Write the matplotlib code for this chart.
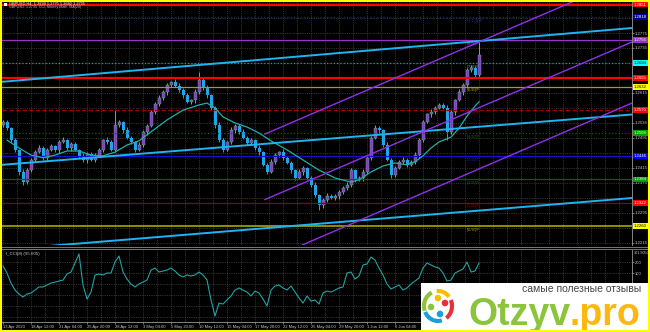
import matplotlib
matplotlib.use("Agg")
import matplotlib.pyplot as plt
from matplotlib.patches import Rectangle, Arc, Circle
import numpy as np

# ---- H4 bars: close per bar, open = previous close, wicks in pips ----
first_open = 1.2530
closes = [1.2537, 1.2521, 1.2489, 1.2463, 1.2404, 1.2377, 1.2409, 1.2436, 1.2457, 1.2468,
          1.2442, 1.2463, 1.2473, 1.2463, 1.2484, 1.2489, 1.2468, 1.2479, 1.2463, 1.2447,
          1.2436, 1.2452, 1.2436, 1.2447, 1.2463, 1.2489, 1.2484, 1.2463, 1.2529, 1.2537,
          1.2516, 1.2495, 1.2484, 1.2463, 1.2476, 1.2511, 1.2527, 1.2564, 1.2585, 1.2601,
          1.2617, 1.2636, 1.2644, 1.2634, 1.2623, 1.2609, 1.2591, 1.2596, 1.2617, 1.2650,
          1.2628, 1.2609, 1.2575, 1.2529, 1.2489, 1.2463, 1.2484, 1.2516, 1.2527, 1.2511,
          1.2495, 1.2482, 1.2489, 1.2468, 1.2457, 1.2423, 1.2404, 1.2431, 1.2449, 1.2457,
          1.2442, 1.2428, 1.2409, 1.2388, 1.2404, 1.2415, 1.2388, 1.2369, 1.2342, 1.2316,
          1.2329, 1.2340, 1.2334, 1.2340, 1.2350, 1.2361, 1.2369, 1.2409, 1.2383, 1.2388,
          1.2404, 1.2442, 1.2495, 1.2521, 1.2516, 1.2476, 1.2436, 1.2396, 1.2415, 1.2431,
          1.2436, 1.2423, 1.2431, 1.2449, 1.2489, 1.2537, 1.2559, 1.2564, 1.2575, 1.2583,
          1.2575, 1.2511, 1.2564, 1.2596, 1.2617, 1.2636, 1.2676, 1.2682, 1.2663, 1.2716]
wick_up = [5, 7, 4, 6, 3, 8, 5, 4, 6, 9, 4, 5, 7, 3, 6, 8, 4, 5, 6, 3,
           7, 4, 5, 8, 6, 4, 9, 5, 40, 6, 4, 7, 5, 3, 8, 6, 4, 5, 7, 9,
           5, 6, 4, 8, 7, 5, 6, 4, 9, 21, 5, 7, 4, 6, 8, 5, 3, 7, 6, 4,
           8, 5, 6, 4, 7, 3, 5, 8, 6, 4, 7, 5, 6, 4, 8, 5, 3, 6, 7, 4,
           5, 8, 6, 4, 7, 5, 9, 6, 4, 5, 7, 4, 6, 8, 5, 3, 7, 6, 4, 5,
           8, 6, 4, 7, 5, 6, 3, 8, 5, 4, 6, 7, 5, 4, 8, 6, 5, 7, 4, 35]
wick_dn = [6, 4, 8, 5, 7, 9, 4, 6, 5, 3, 7, 5, 4, 6, 8, 3, 5, 7, 4, 6,
           5, 8, 4, 6, 3, 7, 5, 4, 6, 5, 8, 4, 6, 7, 3, 5, 8, 4, 6, 5,
           4, 7, 5, 3, 6, 8, 4, 5, 7, 4, 6, 8, 5, 7, 4, 6, 3, 5, 8, 6,
           4, 7, 5, 6, 8, 3, 5, 4, 7, 6, 5, 4, 8, 6, 3, 7, 5, 6, 4, 14,
           7, 5, 3, 6, 8, 4, 6, 5, 7, 3, 8, 5, 6, 4, 7, 5, 3, 8, 6, 4,
           5, 7, 4, 6, 8, 5, 3, 7, 6, 4, 4, 22, 5, 8, 3, 7, 4, 6, 5, 7]

# moving average (bar index, price)
ma_idx = [1, 4, 7, 10, 13, 16, 19, 22, 25, 28, 31, 34, 37, 41, 45, 49, 51, 53, 55, 58,
          61, 64, 67, 71, 75, 79, 83, 87, 89, 92, 95, 98, 101, 103, 105, 107, 109, 112,
          114, 116, 118, 119]
ma_val = [1.2489, 1.2468, 1.2449, 1.2442, 1.2449, 1.2460, 1.2460, 1.2449, 1.2447, 1.2457,
          1.2476, 1.2487, 1.2511, 1.2543, 1.2569, 1.2583, 1.2588, 1.2575, 1.2551, 1.2535,
          1.2524, 1.2508, 1.2487, 1.2463, 1.2436, 1.2409, 1.2388, 1.2377, 1.2383, 1.2404,
          1.2420, 1.2428, 1.2423, 1.2431, 1.2447, 1.2468, 1.2484, 1.2497, 1.2521, 1.2553,
          1.2580, 1.2591]

cci = [164, 100, 9, -55, -91, -118, -91, -82, -55, -27,
       -27, -9, 9, 18, 27, 36, 91, 109, 191, 273,
       -9, -136, -73, 82, 91, 82, 100, 100, 200, 255,
       109, 45, 0, -27, 0, 18, 36, 127, 145, 109,
       118, 127, 145, 118, 82, 64, 82, 73, 82, 109,
       82, 36, -145, -291, -173, -182, -145, -109, -55, -36,
       -55, -73, -109, -64, -82, -136, -200, -55, -18, -9,
       -36, -55, -18, -73, -127, -173, -109, -155, -145, -182,
       -82, -64, -73, -55, -36, -27, 100, 109, 45, 73,
       173, 182, 245, 218, 145, 82, 0, -45, -27, -9,
       -55, -36, 0, 27, 55, 145, 191, 173, 155, 145,
       100, 27, 36, 100, 118, 136, 200, 109, 118, 191]

# Murrey math levels
mm_prices = [1.2260, 1.2322, 1.2384, 1.2446, 1.2508, 1.2570, 1.2632, 1.2694, 1.2756, 1.2818]
mm_names = ["[0/8]P", "[1/8]P", "[2/8]P", "[3/8]P", "[4/8]P", "[5/8]P", "[6/8]P",
            "[7/8]P", "[8/8]P", "[+1/8]P"]
mm_colors = ["#9a9a00", "#8b0000", "#006400", "#1010d0", "#006400", "#a00000",
             "#a0a000", "#1c9a9a", "#9932cc", "#22228c"]
mm_styles = ["-", "-", "-", "-", ":", "--", "-", ":", "-", ":"]
red_lines = [1.2655, 1.2851]

# trend lines: (bar index, price) anchors
cyan_lines = [((-0.75, 1.26442), (157.25, 1.27884)),
              ((-0.75, 1.24226), (157.25, 1.25574)),
              ((-0.75, 1.21956), (157.25, 1.23345))]
purple_lines = [((65.5, 1.25053), (157.25, 1.29267)),
                ((65.5, 1.23304), (157.25, 1.27510)),
                ((65.5, 1.21662), (157.25, 1.25881))]

# price scale
grid_prices = [1.2855, 1.2815, 1.2775, 1.2735, 1.2695, 1.2655, 1.2615, 1.2575, 1.2536,
               1.2495, 1.2455, 1.2415, 1.2375, 1.2335, 1.2295, 1.2255, 1.2215]
shown_prices = [1.2775, 1.2735, 1.2615, 1.2536, 1.2495, 1.2415, 1.2375, 1.2295, 1.2215]
box_prices = [1.2851, 1.2818, 1.2756, 1.2694, 1.2655, 1.2632, 1.2570, 1.2508, 1.2446,
              1.2384, 1.2322, 1.2260]
box_colors = ["#ff0000", "#000090", "#9932cc", "#00ffff", "#ff0000", "#ffff00", "#ff0000",
              "#00a000", "#0000ff", "#00a000", "#ff0000", "#ffff00"]

date_idx = [0, 7, 14, 21, 28, 35, 42, 49, 56, 63, 70, 77, 84, 91, 98]
date_labels = ["13 Apr 2023", "18 Apr 12:00", "21 Apr 04:00", "25 Apr 20:00", "28 Apr 12:00",
               "3 May 04:00", "5 May 20:00", "10 May 12:00", "15 May 04:00", "17 May 20:00",
               "22 May 12:00", "25 May 04:00", "29 May 20:00", "1 Jun 12:00", "6 Jun 04:00"]
cci_grid = [-300, -200, -100, 0, 100, 200]
cci_shown = [100, 200]

PURPLE = "#9a2fd8"
BLUE = "#1ea6ea"
LIME = "#22e040"
GRID = "#5a5a5a"
TXT = "#c8c8c8"
FONT = "Liberation Sans"

fig = plt.figure(figsize=(6.5, 3.32), dpi=100, facecolor="black")
W, H = 650, 332
XLIM = (-0.25, 157.25)

ax = fig.add_axes([2 / W, (H - 245) / H, 630 / W, 243 / H], facecolor="black")
ax2 = fig.add_axes([2 / W, (H - 322) / H, 630 / W, 72 / H], facecolor="black")

# grid
vgrid = np.arange(0, 158, 3.5)
for a in (ax, ax2):
    for g in vgrid:
        a.axvline(g, color=GRID, lw=0.4, ls=(0, (2, 2)), zorder=0)
for p in grid_prices:
    ax.axhline(p, color=GRID, lw=0.4, ls=(0, (2, 2)), zorder=0)
for v in cci_grid:
    ax2.axhline(v, color=GRID, lw=0.4, ls=(0, (2, 2)), zorder=0)

# candles
x = np.arange(len(closes))
c = np.array(closes)
o = np.r_[first_open, c[:-1]]
hi = np.maximum(o, c) + np.array(wick_up) * 1e-4
lo = np.minimum(o, c) - np.array(wick_dn) * 1e-4
bull = c >= o
ax.vlines(x, lo, hi, colors=[LIME if b else BLUE for b in bull], lw=0.7, zorder=5)
ax.bar(x[bull], (c - o)[bull], bottom=o[bull], width=0.75, color=PURPLE,
       edgecolor=LIME, linewidth=0.3, zorder=6)
ax.bar(x[~bull], (c - o)[~bull], bottom=o[~bull], width=0.75, color=BLUE,
       linewidth=0, zorder=6)

# horizontal levels
for p, name, col, ls in zip(mm_prices, mm_names, mm_colors, mm_styles):
    lw = 1.3 if p == 1.2260 else 0.9
    ax.axhline(p, color=col, lw=lw, ls=ls, zorder=7)
    ax.annotate(name, (116, p), xytext=(0, -2.2), textcoords="offset points",
                color=col, fontsize=3.2, ha="left", va="center", zorder=4)
for p in red_lines:
    ax.axhline(p, color="#ff0000", lw=1.6, zorder=7)

# moving average
ax.plot(ma_idx, ma_val, color="#1fb0a8", lw=0.9, zorder=8)

# trend lines
for (x0, y0), (x1, y1) in cyan_lines:
    ax.plot([x0, x1], [y0, y1], color="#1fb4f0", lw=1.4, zorder=9)
for (x0, y0), (x1, y1) in purple_lines:
    ax.plot([x0, x1], [y0, y1], color="#9030e8", lw=1.0, zorder=9)

ax.set_xlim(*XLIM)
ax.set_ylim(1.22090, 1.28578)
ax.set_xticks([])
ax.yaxis.tick_right()
ax.set_yticks(shown_prices)
ax.set_yticklabels([f"{p:.4f}" for p in shown_prices], family=FONT)
ax.tick_params(axis="y", colors=TXT, labelsize=3.1, length=1.2, width=0.4, pad=0.6)
for s in ("left", "top", "bottom"):
    ax.spines[s].set_visible(False)
ax.spines["right"].set_color("#9a9a9a")
ax.spines["right"].set_linewidth(0.6)

# price boxes on the scale
tr = ax.get_yaxis_transform()
for p, col in zip(box_prices, box_colors):
    tc = "black" if col in ("#00ffff", "#ffff00") else "white"
    ax.text(1.0 + 2.0 / 630, p, f"{p:.4f}", transform=tr, fontsize=3.1, color=tc,
            family=FONT, ha="left", va="center", clip_on=False, zorder=20,
            bbox=dict(boxstyle="square,pad=0.22", fc=col, ec=col, lw=0))

# CCI panel
ax2.plot(x, cci, color="#21a3a3", lw=0.8, zorder=5)
ax2.set_xlim(*XLIM)
ax2.set_ylim(-345, 309)
ax2.yaxis.tick_right()
ax2.set_yticks(cci_shown)
ax2.set_yticklabels([str(v) for v in cci_shown], family=FONT)
ax2.set_xticks(date_idx)
ax2.set_xticklabels(date_labels, family=FONT)
for lbl in ax2.get_xticklabels():
    lbl.set_ha("left")
ax2.tick_params(axis="both", colors=TXT, labelsize=3.0, length=1.5, width=0.4, pad=0.8)
for s in ("left", "top"):
    ax2.spines[s].set_visible(False)
for s in ("right", "bottom"):
    ax2.spines[s].set_color("#9a9a9a")
    ax2.spines[s].set_linewidth(0.6)
ax2.text(0.006, 0.97, "I_CCI(8) (95.605)", transform=ax2.transAxes, fontsize=3.2,
         color=TXT, family=FONT, ha="left", va="top")
ax2.text(1.0 + 1.5 / 630, 0.985, "301.9050", transform=ax2.transAxes, fontsize=2.7,
         color=TXT, family=FONT, ha="left", va="top", clip_on=False)

# overlay: header, separators, border, watermark
ov = fig.add_axes([0, 0, 1, 1], zorder=10)
ov.set_xlim(0, W)
ov.set_ylim(H, 0)
ov.axis("off")
ov.patch.set_alpha(0)

ov.add_patch(Rectangle((4, 2.5), 3, 3, color="white", lw=0))
ov.text(9, 4, "GBPUSD,H4  1.2699 1.2775 1.2682 1.2735", fontsize=2.8, color="white",
        family=FONT, va="center", ha="left")
ov.text(9, 7, "GBPUSD: 1.2735  CCI  Murrey Math  MA(20)", fontsize=2.6, color="#bbbbbb",
        family=FONT, va="center", ha="left")

for yy in (246.6, 249.3):
    ov.plot([0, W], [yy, yy], color="#8a8a8a", lw=0.6)

# watermark
ov.add_patch(Rectangle((421, 283), 229, 49, color="white", lw=0, zorder=5))
ov.text(641, 289, "самые полезные отзывы", fontsize=7.5, color="#444444",
        ha="right", va="center", family=["Liberation Sans", "DejaVu Sans"], zorder=6)
ov.text(468, 325, "Otzyv", fontsize=27, fontweight="bold", color="#8cc43c",
        family=FONT, ha="left", va="baseline", zorder=6)
ov.text(570, 325, ".pro", fontsize=27, fontweight="bold", color="#fbb810",
        family=FONT, ha="left", va="baseline", zorder=6)
cx, cy = 438, 306
ov.add_patch(Arc((cx, cy), 28, 30, theta1=160, theta2=245, color="#8cc43c", lw=3, zorder=6))
ov.add_patch(Arc((cx, cy), 28, 30, theta1=75, theta2=155, color="#1aa0d8", lw=3, zorder=6))
ov.add_patch(Arc((cx, cy), 28, 30, theta1=-25, theta2=55, color="#e8303a", lw=3, zorder=6))
ov.add_patch(Arc((cx, cy), 28, 30, theta1=265, theta2=320, color="#f5c000", lw=3, zorder=6))
for (dx, dy, col) in [(0, -8, "#f5c000"), (7, -3, "#e8303a"), (2, 8, "#1aa0d8"),
                      (-7, 1, "#8cc43c")]:
    ov.add_patch(Circle((cx + dx, cy + dy), 2.6, color=col, zorder=6))

ov.add_patch(Rectangle((0.75, 0.75), W - 1.5, H - 1.5, fill=False, edgecolor="#ffff00",
                       lw=1.5, zorder=7))

fig.savefig("out.png", dpi=100, facecolor="black")
